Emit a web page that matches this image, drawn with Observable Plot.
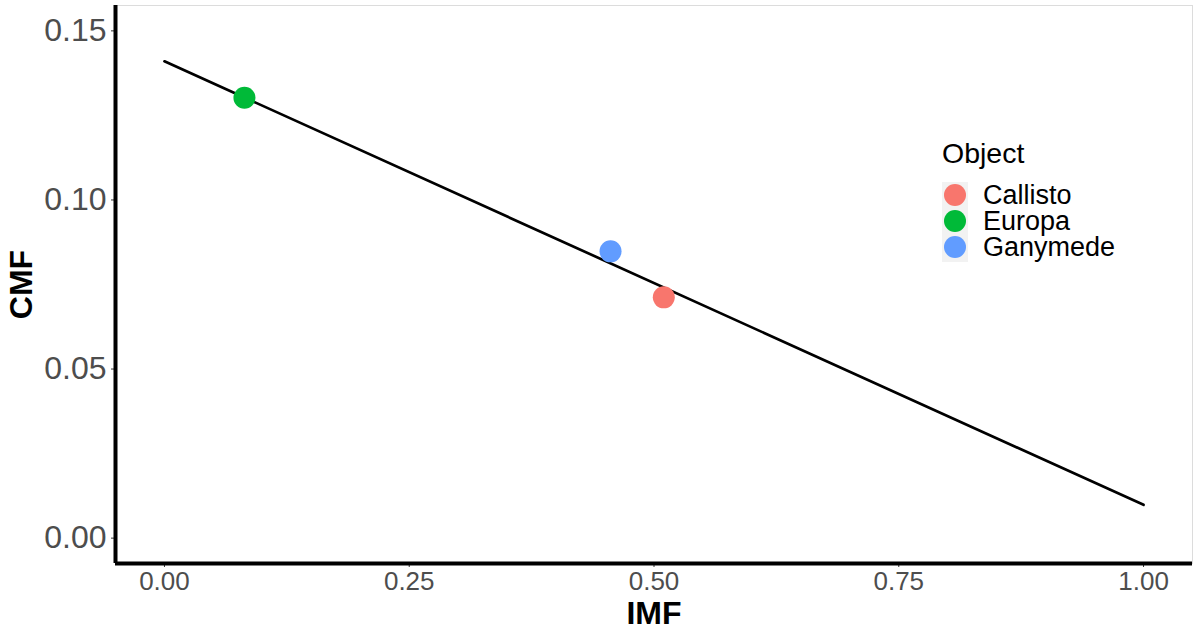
<!DOCTYPE html>
<html>
<head>
<meta charset="utf-8">
<script src="https://cdn.jsdelivr.net/npm/d3@7"></script>
<script src="https://cdn.jsdelivr.net/npm/@observablehq/plot@0.6"></script>
<style>
  html, body { margin: 0; padding: 0; background: white; }
  #wrap { position: relative; width: 1200px; height: 633px; font-family: "Liberation Sans", Arial, Helvetica, sans-serif; }
  #wrap svg { display: block; }
  g[aria-label="x-axis tick label"] { fill: #4d4d4d; font-size: 26px; }
  g[aria-label="y-axis tick label"] { fill: #4d4d4d; font-size: 32px; }
  g[aria-label="x-axis tick"], g[aria-label="y-axis tick"] { stroke: #333333; }
  #legend { position: absolute; left: 930px; top: 130px; }
</style>
</head>
<body>
<div id="wrap"></div>
<script>
// ---- data ----
const objects = ["Callisto", "Europa", "Ganymede"];
const imfValues = [0.510, 0.0817, 0.4556];
const cmfValues = [0.0712, 0.1302, 0.0848];
const objectColors = ["#F8766D", "#00BA38", "#619CFF"];
const fitIMF = [0, 1];
const fitCMF = [0.1410, 0.00985];
const xTicks = [0, 0.25, 0.5, 0.75, 1];
const yTicks = [0, 0.05, 0.10, 0.15];
const xLimits = [0, 1];
const yLimits = [0, 0.15];
const xTitle = "IMF";
const yTitle = "CMF";
const legendTitle = "Object";

// ggplot-style 5% expansion
const expand = (l) => { const d = (l[1] - l[0]) * 0.05; return [l[0] - d, l[1] + d]; };
const xDom = expand(xLimits);
const yDom = expand(yLimits);

const points = objects.map((o, i) => ({object: o, imf: imfValues[i], cmf: cmfValues[i]}));
const fit = fitIMF.map((x, i) => ({imf: x, cmf: fitCMF[i]}));
const fmt = d3.format(".2f");

const chart = Plot.plot({
  width: 1200,
  height: 633,
  marginLeft: 115,
  marginRight: 8,
  marginTop: 5,
  marginBottom: 70,
  style: {fontFamily: "Liberation Sans, Arial, Helvetica, sans-serif", background: "white", overflow: "visible"},
  x: {domain: xDom},
  y: {domain: yDom},
  color: {domain: objects, range: objectColors},
  marks: [
    Plot.frame({stroke: "#dcdcdc", strokeWidth: 1}),
    Plot.axisX({ticks: xTicks, tickFormat: fmt, tickSize: 4, tickPadding: 4, label: null}),
    Plot.axisY({ticks: yTicks, tickFormat: fmt, tickSize: 4, tickPadding: 5, label: null}),
    Plot.line(fit, {x: "imf", y: "cmf", stroke: "black", strokeWidth: 2.7}),
    Plot.dot(points, {x: "imf", y: "cmf", fill: "object", r: 11, stroke: "none"}),
    Plot.ruleX([xDom[0]], {stroke: "black", strokeWidth: 4}),
    Plot.ruleY([yDom[0]], {stroke: "black", strokeWidth: 4}),
    Plot.text([xTitle], {frameAnchor: "bottom", textAnchor: "middle", lineAnchor: "middle", dy: 50, text: d => d, fontSize: 32, fontWeight: "bold", fill: "black"}),
    Plot.text([yTitle], {frameAnchor: "left", textAnchor: "middle", lineAnchor: "middle", dx: -94, rotate: -90, text: d => d, fontSize: 32, fontWeight: "bold", fill: "black"})
  ]
});
document.getElementById("wrap").appendChild(chart);

// ---- legend ----
const rowH = 26;
const lg = d3.select("#wrap").append("svg")
  .attr("id", "legend")
  .attr("width", 230).attr("height", 150);
lg.append("text")
  .attr("x", 12).attr("y", 33)
  .attr("font-size", 28.5)
  .attr("font-family", "Liberation Sans, Arial, Helvetica, sans-serif")
  .attr("fill", "black")
  .text(legendTitle);
lg.append("rect")
  .attr("x", 12).attr("y", 52)
  .attr("width", 26).attr("height", rowH * objects.length + 2)
  .attr("fill", "#f2f2f2");
const rows = lg.selectAll("g.row").data(objects).join("g")
  .attr("transform", (d, i) => `translate(0,${65 + i * rowH})`);
rows.append("circle").attr("cx", 25).attr("cy", 0).attr("r", 11)
  .attr("fill", (d, i) => objectColors[i]);
rows.append("text").attr("x", 53).attr("y", 0).attr("dy", "0.35em")
  .attr("font-size", 27)
  .attr("font-family", "Liberation Sans, Arial, Helvetica, sans-serif")
  .attr("fill", "black")
  .text(d => d);
</script>
</body>
</html>
